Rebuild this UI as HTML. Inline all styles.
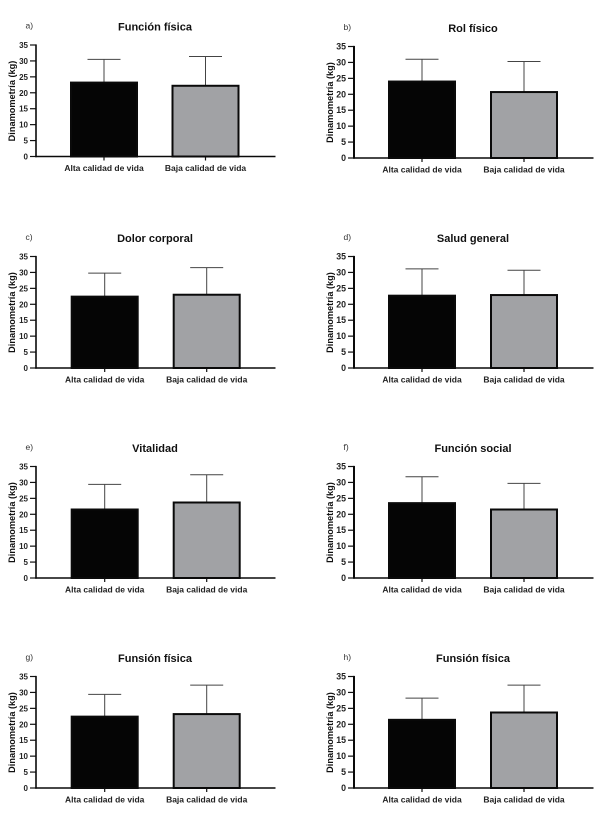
<!DOCTYPE html>
<html lang="es">
<head>
<meta charset="utf-8">
<title>Dinamometría por calidad de vida</title>
<style>
html,body{margin:0;padding:0;background:#fff;width:606px;height:820px;overflow:hidden}
svg{display:block;font-family:"Liberation Sans",Arial,sans-serif;filter:blur(0.35px)}
</style>
</head>
<body>
<svg id="figure" width="606" height="820" viewBox="0 0 606 820" xmlns="http://www.w3.org/2000/svg"></svg>
<script>
const panelLetters = ['a)','b)','c)','d)','e)','f)','g)','h)'];
const panelTitles = ['Función física','Rol físico','Dolor corporal','Salud general','Vitalidad','Función social','Funsión física','Funsión física'];
const categories = ['Alta calidad de vida','Baja calidad de vida'];
const altaMean = [23.2,24.0,22.4,22.7,21.5,23.5,22.4,21.4];
const bajaMean = [22.2,20.7,23.0,22.9,23.7,21.5,23.2,23.7];
const altaSD = [7.3,7.0,7.4,8.4,7.9,8.3,7.0,6.8];
const bajaSD = [9.2,9.6,8.5,7.8,8.7,8.2,9.1,8.6];
const yTickLabels = [0,5,10,15,20,25,30,35];
const yAxisTitle = 'Dinamometría (kg)';

const NS = 'http://www.w3.org/2000/svg';
const svg = document.getElementById('figure');
const yMax = 35, plotH = 111.5, barW = 66, capW = 33;

function mk(parent, tag, props, text) {
  const el = document.createElementNS(NS, tag);
  for (const k in props) el.setAttribute(k, props[k]);
  if (text !== undefined) el.textContent = text;
  parent.appendChild(el);
  return el;
}
function panelFrame(i) {
  const col = i % 2, row = Math.floor(i / 2);
  const base = row === 0 ? (col ? 158 : 156.5) : 368 + (row - 1) * 210;
  return {ax: col ? 354 : 36, y0: base, col, row};
}

panelTitles.forEach((title, i) => {
  const f = panelFrame(i);
  const yScale = v => f.y0 - v / yMax * plotH;
  const shift = (!f.col && f.row > 0) ? 0.7 : 0;
  const xScale = c => f.ax + 68 + shift + c * (f.row === 0 && !f.col ? 101.5 : 102);
  const tickFont = f.col ? 8.8 : 8;
  const g = mk(svg, 'g', {});
  
  

  const letter = mk(g, 'text', {x: f.ax - 10.5, y: yScale(35) - 16.5, 'font-size': 8.5, fill: '#333'}, panelLetters[i]);
  
  

  const t = mk(g, 'text', {x: f.ax + 119, y: yScale(35) - 14.5, 'font-size': 11, 'font-weight': 'bold', 'text-anchor': 'middle', fill: '#111'}, title);
  
  

  const yt = mk(g, 'text', {transform: 'translate(' + (f.ax - 21) + ',' + (f.y0 - 55.5) + ') rotate(-90)', 'font-size': 9.2, 'font-weight': 'bold', 'text-anchor': 'middle', fill: '#111'}, yAxisTitle);
  
  

  categories.forEach((cat, c) => {
    const mean = (c === 0 ? altaMean : bajaMean)[i];
    const sd = (c === 0 ? altaSD : bajaSD)[i];
    const cx = xScale(c);

    const stem = mk(g, 'line', {x1: cx, x2: cx, y1: yScale(mean), y2: yScale(mean + sd), stroke: '#444', 'stroke-width': 1});
    
    

    const cap = mk(g, 'line', {x1: cx - capW / 2, x2: cx + capW / 2, y1: yScale(mean + sd), y2: yScale(mean + sd), stroke: '#444', 'stroke-width': 1});
    
    

    const bar = mk(g, 'rect', {x: cx - barW / 2, y: yScale(mean), width: barW, height: f.y0 - yScale(mean), fill: c === 0 ? '#050505' : '#a1a2a5', stroke: '#0a0a0a', 'stroke-width': 2});
    
    

    const xt = mk(g, 'line', {x1: cx, x2: cx, y1: f.y0, y2: f.y0 + 4, stroke: '#111', 'stroke-width': 1.2});
    
    

    const lab = mk(g, 'text', {x: cx, y: f.y0 + 14.5, 'font-size': 8.5, 'font-weight': 'bold', 'text-anchor': 'middle', fill: '#222'}, cat);
    
    
  });

  yTickLabels.forEach(v => {
    const tick = mk(g, 'line', {x1: f.ax - 6, x2: f.ax, y1: yScale(v), y2: yScale(v), stroke: '#111', 'stroke-width': 1.2});
    
    

    const lab = mk(g, 'text', {x: f.ax - 8, y: yScale(v) + 3, 'font-size': tickFont, 'font-weight': 'bold', 'text-anchor': 'end', fill: '#222'}, String(v));
    
    
  });

  const yAxis = mk(g, 'line', {x1: f.ax, x2: f.ax, y1: yScale(35) - 0.6, y2: f.y0 + 0.7, stroke: '#0a0a0a', 'stroke-width': f.col ? 2 : 1.6});
  
  

  const xAxis = mk(g, 'line', {x1: f.ax - 0.7, x2: f.ax + 239.5, y1: f.y0, y2: f.y0, stroke: '#0a0a0a', 'stroke-width': 1.6});
  
  
});
</script>
</body>
</html>
